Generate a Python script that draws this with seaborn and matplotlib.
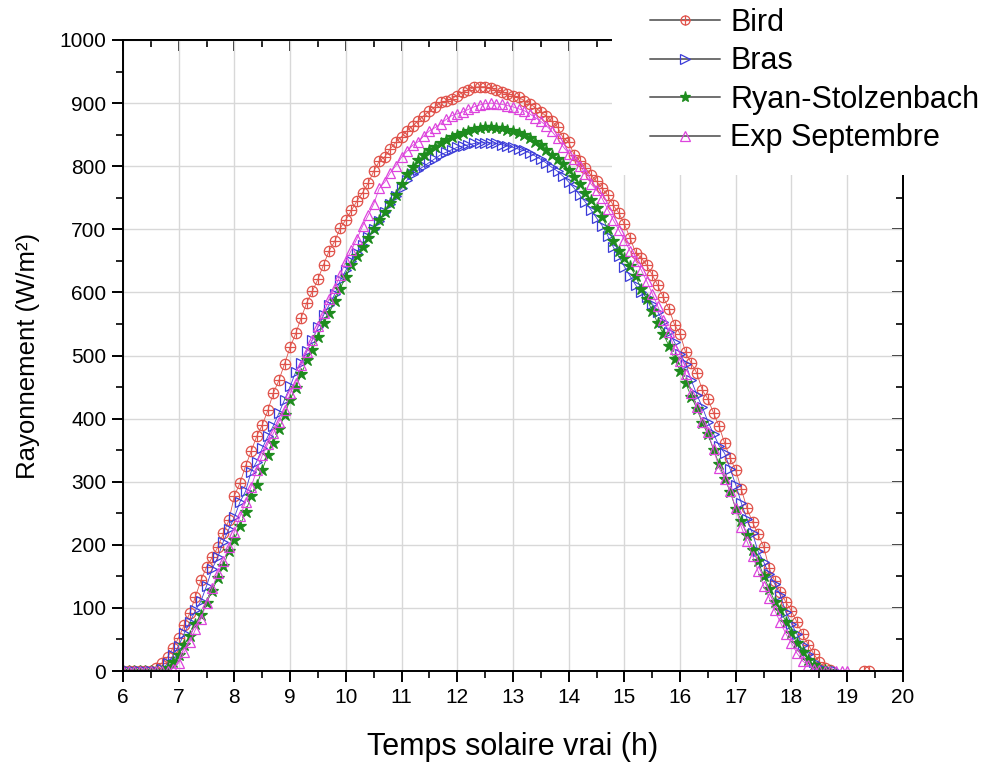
import numpy as np
import pandas as pd
import matplotlib
matplotlib.use("Agg")
import matplotlib.pyplot as plt
from matplotlib.lines import Line2D
from matplotlib.patches import Rectangle
from matplotlib.ticker import MultipleLocator
import seaborn as sns

nan = np.nan

# time grid (solar hours), one sample every 0.1 h
hours = np.round(np.arange(6.0, 19.45, 0.1), 1)

bird = [0, 0, 0, 0, 0, 0, 5, 13, 22, 37,
        53, 73, 92, 118, 144, 165, 180, 196, 218, 239,
        278, 298, 325, 348, 372, 390, 413, 441, 461, 487,
        513, 535, 560, 584, 602, 621, 644, 666, 681, 702,
        715, 730, 745, 758, 773, 792, 808, 815, 828, 838,
        847, 856, 864, 872, 880, 887, 894, 901, 903, 907,
        912, 917, 921, 925, 926, 926, 924, 920, 917, 915,
        912, 909, 904, 899, 893, 886, 879, 871, 862, 845,
        838, 818, 808, 797, 786, 776, 765, 754, 738, 726,
        708, 687, 663, 655, 643, 628, 611, 592, 574, 549,
        534, 505, 488, 472, 445, 431, 409, 388, 361, 337,
        318, 288, 258, 236, 217, 197, 163, 142, 125, 109,
        95, 77, 58, 42, 27, 14, 5, 1, nan, nan,
        nan, nan, nan, 0, 0]

bras = [0, 0, 0, 0, 0, 0, 0, 3, 12, 25,
        40, 60, 77, 96, 111, 135, 162, 180, 205, 225,
        244, 268, 285, 316, 332, 353, 372, 389, 409, 430,
        451, 474, 488, 507, 525, 545, 564, 580, 597, 619,
        635, 650, 663, 675, 688, 700, 713, 727, 740, 753,
        765, 778, 788, 794, 800, 806, 812, 818, 822, 826,
        830, 832, 834, 836, 837, 837, 837, 836, 834, 832,
        830, 827, 825, 821, 816, 811, 805, 798, 792, 784,
        775, 765, 754, 743, 731, 718, 706, 690, 672, 657,
        641, 626, 612, 600, 592, 582, 569, 553, 538, 521,
        503, 487, 461, 438, 418, 395, 376, 357, 345, 320,
        295, 266, 241, 218, 190, 173, 153, 138, 120, 93,
        75, 58, 41, 27, 15, 6, 2, 0, 0, nan,
        nan, nan, nan, nan, nan]

ryan = [0, 0, 0, 0, 0, 0, 0, 0, 5, 14,
        26, 42, 55, 74, 88, 108, 127, 147, 166, 190,
        208, 230, 252, 277, 295, 319, 343, 361, 383, 406,
        430, 449, 470, 493, 509, 530, 551, 567, 586, 606,
        625, 643, 658, 672, 686, 700, 714, 728, 742, 755,
        771, 787, 799, 810, 818, 825, 831, 837, 842, 846,
        850, 853, 856, 859, 861, 862, 862, 861, 860, 858,
        855, 852, 849, 845, 839, 833, 826, 818, 811, 803,
        794, 783, 771, 757, 746, 733, 720, 701, 682, 665,
        655, 642, 626, 606, 590, 571, 551, 534, 515, 494,
        476, 456, 435, 416, 393, 375, 351, 328, 305, 284,
        257, 238, 216, 192, 174, 151, 130, 110, 96, 78,
        60, 44, 30, 18, 10, 4, 1, 0, nan, nan,
        nan, nan, nan, nan, nan]

exp_sept = [0, 0, 0, 0, 0, 0, 0, 0, 0, 4,
            13, 30, 46, 66, 83, 108, 131, 155, 174, 196,
            221, 245, 268, 292, 318, 342, 360, 377, 395, 414,
            440, 457, 485, 506, 525, 546, 567, 590, 607, 627,
            650, 667, 685, 705, 722, 740, 765, 775, 790, 801,
            814, 824, 833, 839, 848, 856, 861, 867, 874, 880,
            883, 886, 890, 894, 897, 899, 900, 899, 898, 896,
            894, 891, 888, 883, 877, 871, 864, 855, 844, 831,
            820, 811, 801, 788, 772, 762, 749, 732, 715, 699,
            683, 666, 650, 636, 618, 598, 578, 556, 538, 510,
            492, 470, 441, 418, 395, 378, 352, 322, 305, 285,
            258, 228, 206, 183, 158, 135, 116, 96, 77, 59,
            44, 28, 16, 9, 4, 1, 0, 0, 0, 0,
            0, nan, nan, nan, nan]

names = ["Bird", "Bras", "Ryan-Stolzenbach", "Exp Septembre"]

df = pd.DataFrame({"hours": hours, "Bird": bird, "Bras": bras,
                   "Ryan-Stolzenbach": ryan, "Exp Septembre": exp_sept})
df = df.melt(id_vars="hours", var_name="serie", value_name="ray").dropna()

styles = {
    "Bird": dict(color="#e0524a", marker="o", fill=False, ms=7.5),
    "Bras": dict(color="#3c3cd8", marker=">", fill=False, ms=7.5),
    "Ryan-Stolzenbach": dict(color="#1e8c1e", marker="*", fill=True, ms=9),
    "Exp Septembre": dict(color="#dd44dd", marker="^", fill=False, ms=7.5),
}

sns.set_theme(style="ticks")
plt.rcParams["font.family"] = ["Liberation Sans", "DejaVu Sans"]
plt.rcParams["text.color"] = "black"
plt.rcParams["axes.labelcolor"] = "black"

fig = plt.figure(figsize=(9.81, 7.69), dpi=100)
ax = fig.add_axes([0.1254, 0.1274, 0.795, 0.8206])

for name in names:
    st = styles[name]
    sub = df[df["serie"] == name]
    sns.lineplot(data=sub, x="hours", y="ray", ax=ax, estimator=None,
                 color=st["color"], linewidth=0.6,
                 marker=st["marker"], markersize=st["ms"],
                 markerfacecolor=st["color"] if st["fill"] else "none",
                 markeredgecolor=st["color"], markeredgewidth=0.9)
    if name == "Bird":
        sns.lineplot(data=sub, x="hours", y="ray", ax=ax, estimator=None,
                     color=st["color"], linestyle="", marker="+",
                     markersize=st["ms"], markeredgecolor=st["color"],
                     markeredgewidth=0.9)

ax.set_xlim(6, 20)
ax.set_ylim(0, 1000)
ax.xaxis.set_major_locator(MultipleLocator(1))
ax.xaxis.set_minor_locator(MultipleLocator(0.5))
ax.yaxis.set_major_locator(MultipleLocator(100))
ax.yaxis.set_minor_locator(MultipleLocator(50))
ax.grid(True, which="major", color="#d8d8d8", linewidth=1)
ax.set_axisbelow(True)
ax.tick_params(which="major", direction="out", length=8, width=1.4,
               labelsize=15, colors="black", pad=4)
ax.tick_params(which="minor", direction="out", length=5, width=1.4)
for sp in ax.spines.values():
    sp.set_linewidth(1.4)
    sp.set_color("black")

# inward ticks on top and right
top = ax.secondary_xaxis("top")
top.xaxis.set_major_locator(MultipleLocator(1))
top.xaxis.set_minor_locator(MultipleLocator(0.5))
top.tick_params(which="major", direction="in", length=8, width=1.4, labeltop=False)
top.tick_params(which="minor", direction="in", length=5, width=1.4)
top.spines["top"].set_linewidth(1.4)
right = ax.secondary_yaxis("right")
right.yaxis.set_major_locator(MultipleLocator(100))
right.yaxis.set_minor_locator(MultipleLocator(50))
right.tick_params(which="major", direction="in", length=8, width=1.4, labelright=False)
right.tick_params(which="minor", direction="in", length=5, width=1.4)
right.spines["right"].set_linewidth(1.4)

ax.set_xlabel("Temps solaire vrai (h)", fontsize=22, labelpad=18)
ax.set_ylabel("Rayonnement (W/m²)", fontsize=18.5, labelpad=14)

# white block behind the legend hides the top-right corner of the frame
fig.add_artist(Rectangle((0.624, 0.7724), 0.376, 0.2276, transform=fig.transFigure,
                         facecolor="white", edgecolor="none", zorder=3))

handles = []
for name in names:
    st = styles[name]
    h = Line2D([], [], color="#707070", linewidth=1.4, marker=st["marker"],
               markersize=st["ms"] - 1,
               markerfacecolor=st["color"] if st["fill"] else "none",
               markeredgecolor=st["color"], markeredgewidth=0.9)
    if name == "Bird":
        plus = Line2D([], [], linestyle="", marker="+", markersize=st["ms"] - 1,
                      markeredgecolor=st["color"], markeredgewidth=0.9)
        h = (h, plus)
    handles.append(h)

leg = fig.legend(handles, names, loc="upper left", bbox_to_anchor=(0.6626, 0.99),
                 frameon=False, fontsize=22, handlelength=2.3, handletextpad=0.33,
                 labelspacing=0.28, borderpad=0, borderaxespad=0)
leg.set_zorder(5)

fig.savefig("out.png", dpi=100)
